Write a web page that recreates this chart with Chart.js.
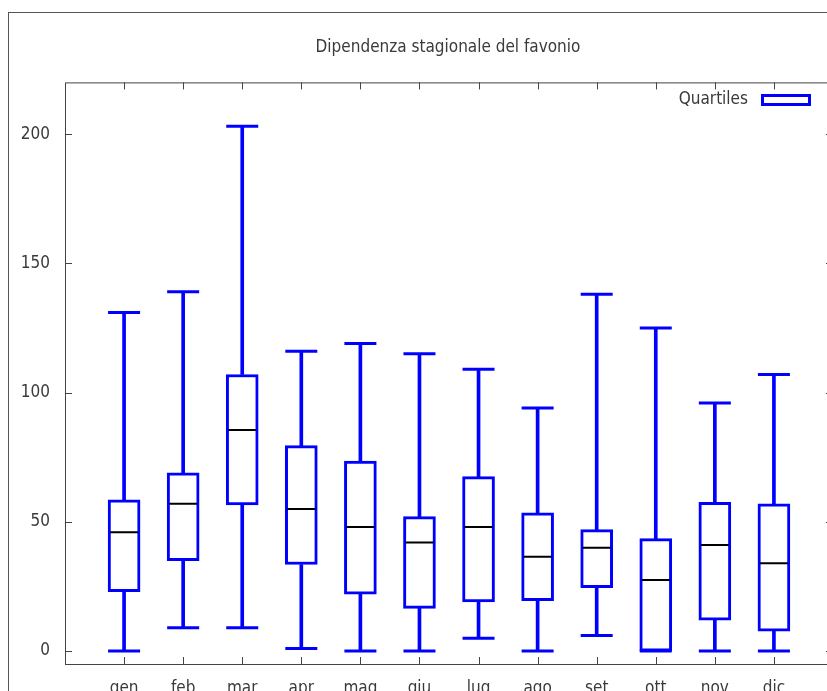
<!DOCTYPE html>
<html>
<head>
<meta charset="utf-8">
<title>Dipendenza stagionale del favonio</title>
<script src="https://cdn.jsdelivr.net/npm/chart.js@4/dist/chart.umd.min.js"></script>
<style>
  html, body { margin: 0; padding: 0; background: #fff; overflow: hidden; }
  #frame { position: absolute; left: 8px; top: 12px; width: 900px; height: 800px; border: 1px solid #555; }
  #myChart { position: absolute; left: 0; top: 0; }
</style>
</head>
<body>
<div id="frame"></div>
<canvas id="myChart" width="896" height="700"></canvas>
<script>
var months = ["gen", "feb", "mar", "apr", "mag", "giu", "lug", "ago", "set", "ott", "nov", "dic"];
var lowW  = [0, 9, 9, 1, 0, 0, 5, 0, 6, 0, 0, 0];
var q1    = [23, 35, 56.5, 33.5, 22, 16.5, 19, 19.5, 24.5, 0, 12, 7.7];
var med   = [46, 57, 85.5, 55, 48, 42, 48, 36.5, 40, 27.5, 41, 34];
var q3    = [58.5, 69, 107, 79.5, 73.5, 52, 67.5, 53.5, 47, 43.5, 57.5, 57];
var highW = [131, 139, 203, 116, 119, 115, 109, 94, 138, 125, 96, 107];
var yTicks = [0, 50, 100, 150, 200];

var blue = "#0000ff";
var textCol = "#3a3a3a";
var fontFam = "'DejaVu Sans Condensed', 'DejaVu Sans', sans-serif";

function pairs(a, b) {
  var out = [];
  for (var i = 0; i < months.length; i++) {
    out.push({ x: i + 1, y: [a[i], b[i]] });
  }
  return out;
}
function points(a) {
  var out = [];
  for (var i = 0; i < months.length; i++) {
    out.push({ x: i + 1, y: a[i] });
  }
  return out;
}

// border, inward ticks on all four sides, and the key in the top right corner
var gnuFrame = {
  id: "gnuFrame",
  beforeDatasetsDraw: function (chart) {
    var ctx = chart.ctx, a = chart.chartArea;
    var sx = chart.scales.x, sy = chart.scales.y;
    ctx.save();
    ctx.strokeStyle = "#444";
    ctx.lineWidth = 1;
    ctx.strokeRect(a.left + 0.5, a.top + 0.5, a.right - a.left, a.bottom - a.top);
    ctx.beginPath();
    sy.ticks.forEach(function (t) {
      var y = Math.round(sy.getPixelForValue(t.value)) + 0.5;
      ctx.moveTo(a.left, y); ctx.lineTo(a.left + 7, y);
      ctx.moveTo(a.right, y); ctx.lineTo(a.right - 7, y);
    });
    sx.ticks.forEach(function (t) {
      var x = Math.round(sx.getPixelForValue(t.value)) + 0.5;
      ctx.moveTo(x, a.bottom); ctx.lineTo(x, a.bottom - 7);
      ctx.moveTo(x, a.top); ctx.lineTo(x, a.top + 7);
    });
    ctx.stroke();
    ctx.restore();
  },
  afterDatasetsDraw: function (chart) {
    var ctx = chart.ctx;
    ctx.save();
    ctx.font = "17px " + fontFam;
    ctx.fillStyle = textCol;
    ctx.textAlign = "right";
    ctx.textBaseline = "middle";
    ctx.fillText(chart.data.datasets[0].label, 748, 100);
    ctx.strokeStyle = blue;
    ctx.lineWidth = 3;
    ctx.strokeRect(762.5, 95.5, 47, 9);
    ctx.restore();
  }
};

var chart = new Chart("myChart", {
  type: "bar",
  data: {
    datasets: [
      {
        label: "Quartiles",
        data: pairs(q1, q3),
        backgroundColor: "#ffffff",
        borderColor: blue,
        borderWidth: 3,
        borderSkipped: false,
        barThickness: 32,
        grouped: false,
        order: 1
      },
      {
        label: "low",
        data: pairs(lowW, q1),
        backgroundColor: blue,
        borderWidth: 0,
        barThickness: 3,
        grouped: false,
        order: 2
      },
      {
        label: "high",
        data: pairs(q3, highW),
        backgroundColor: blue,
        borderWidth: 0,
        barThickness: 3,
        grouped: false,
        order: 2
      },
      {
        type: "scatter",
        label: "lowcap",
        data: points(lowW),
        pointStyle: "line",
        pointRadius: 16,
        borderWidth: 3,
        borderColor: blue,
        order: 0
      },
      {
        type: "scatter",
        label: "highcap",
        data: points(highW),
        pointStyle: "line",
        pointRadius: 16,
        borderWidth: 3,
        borderColor: blue,
        order: 0
      },
      {
        type: "scatter",
        label: "median",
        data: points(med),
        pointStyle: "line",
        pointRadius: 14,
        borderWidth: 2,
        borderColor: "#000000",
        order: 0
      }
    ]
  },
  options: {
    responsive: false,
    animation: false,
    devicePixelRatio: 1,
    layout: { padding: 0 },
    plugins: {
      legend: { display: false },
      tooltip: { enabled: false },
      title: {
        display: true,
        text: "Dipendenza stagionale del favonio",
        color: textCol,
        font: { family: fontFam, size: 17, weight: "normal" },
        padding: { top: 37, bottom: 25 }
      }
    },
    scales: {
      x: {
        type: "linear",
        min: 0,
        max: 13,
        offset: false,
        grid: { display: false, drawTicks: false },
        border: { display: false },
        afterBuildTicks: function (s) {
          s.ticks = months.map(function (m, i) { return { value: i + 1 }; });
        },
        afterFit: function (s) { s.height = 36; },
        ticks: {
          color: textCol,
          font: { family: fontFam, size: 17 },
          padding: 14,
          maxRotation: 0,
          autoSkip: false,
          callback: function (v) { return months[v - 1]; }
        }
      },
      y: {
        min: -5,
        max: 220,
        grid: { display: false, drawTicks: false },
        border: { display: false },
        afterBuildTicks: function (s) {
          s.ticks = yTicks.map(function (v) { return { value: v }; });
        },
        afterFit: function (s) { s.width = 65; },
        ticks: {
          color: textCol,
          font: { family: fontFam, size: 17 },
          padding: 15
        }
      },
      y2: {
        position: "right",
        min: -5,
        max: 220,
        grid: { display: false, drawTicks: false },
        border: { display: false },
        ticks: { display: false },
        afterFit: function (s) { s.width = 63; }
      }
    }
  },
  plugins: [gnuFrame]
});
</script>
</body>
</html>
